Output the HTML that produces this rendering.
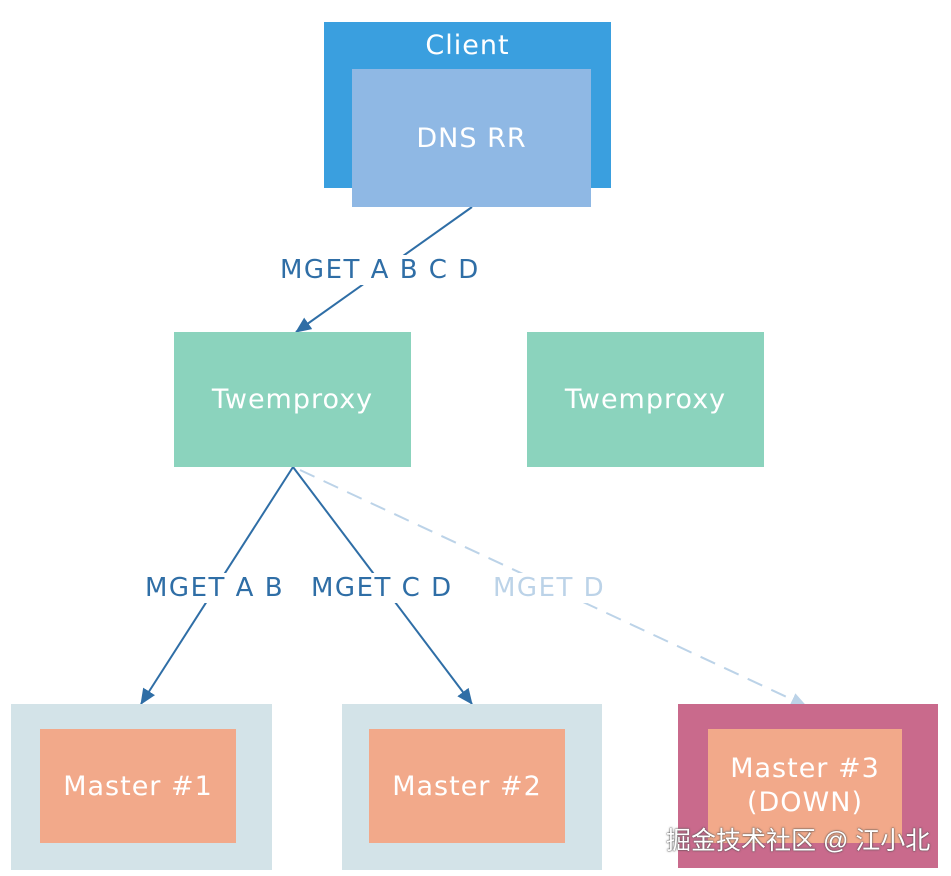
<!DOCTYPE html>
<html><head><meta charset="utf-8"><style>
body{margin:0;background:#fff;width:951px;height:876px;overflow:hidden;font-family:"DejaVu Sans","Liberation Sans","Noto Sans CJK SC",sans-serif}
.b{position:absolute;color:#fff;display:flex;align-items:center;justify-content:center;text-align:center;font-size:27px;letter-spacing:1px}
.l{position:absolute;font-size:26px;letter-spacing:1.5px;color:#2f6ea6;white-space:nowrap;background:#fff;line-height:30px}
</style></head><body>
<svg width="951" height="876" style="position:absolute;left:0;top:0">
<defs>
<marker id="a" markerWidth="16" markerHeight="14" refX="15" refY="7" orient="auto" markerUnits="userSpaceOnUse"><path d="M0,0 L16,7 L0,14z" fill="#2f6ea6"/></marker>
<marker id="b" markerWidth="16" markerHeight="14" refX="15" refY="7" orient="auto" markerUnits="userSpaceOnUse"><path d="M0,0 L16,7 L0,14z" fill="#bcd3e8"/></marker>
</defs>
<line x1="472" y1="207" x2="296" y2="332" stroke="#2f6ea6" stroke-width="2" marker-end="url(#a)"/>
<line x1="293" y1="467" x2="141" y2="704" stroke="#2f6ea6" stroke-width="2" marker-end="url(#a)"/>
<line x1="293" y1="467" x2="472" y2="704" stroke="#2f6ea6" stroke-width="2" marker-end="url(#a)"/>
<line x1="300" y1="470" x2="806" y2="706" stroke="#bcd3e8" stroke-width="2" stroke-dasharray="16,10" marker-end="url(#b)"/>
</svg>
<div class="b" style="left:324px;top:22px;width:287px;height:166px;background:#3a9fdf;align-items:flex-start"><span style="margin-top:8px">Client</span></div>
<div class="b" style="left:352px;top:69px;width:239px;height:138px;background:#8fb8e4">DNS RR</div>
<div class="l" style="left:280px;top:255px">MGET A B C D</div>
<div class="b" style="left:174px;top:332px;width:237px;height:135px;background:#8bd3bd">Twemproxy</div>
<div class="b" style="left:527px;top:332px;width:237px;height:135px;background:#8bd3bd">Twemproxy</div>
<div class="l" style="left:145px;top:573px">MGET A B</div>
<div class="l" style="left:311px;top:573px">MGET C D</div>
<div class="l" style="left:493px;top:573px;color:#bcd3e8">MGET D</div>
<div class="b" style="left:11px;top:704px;width:261px;height:166px;background:#d3e3e8"></div>
<div class="b" style="left:40px;top:729px;width:196px;height:114px;background:#f2a98a">Master #1</div>
<div class="b" style="left:342px;top:704px;width:260px;height:166px;background:#d3e3e8"></div>
<div class="b" style="left:369px;top:729px;width:196px;height:114px;background:#f2a98a">Master #2</div>
<div class="b" style="left:678px;top:704px;width:260px;height:164px;background:#c96a8c"></div>
<div class="b" style="left:708px;top:729px;width:194px;height:114px;background:#f2a98a;line-height:34px">Master #3<br>(DOWN)</div>
<div style="position:absolute;left:666px;top:821px;font-size:25px;color:#fff;text-shadow:0 0 2px #555,0 0 1px #333;font-family:'Liberation Sans','Noto Sans CJK SC',sans-serif">掘金技术社区 @ 江小北</div>
</body></html>
